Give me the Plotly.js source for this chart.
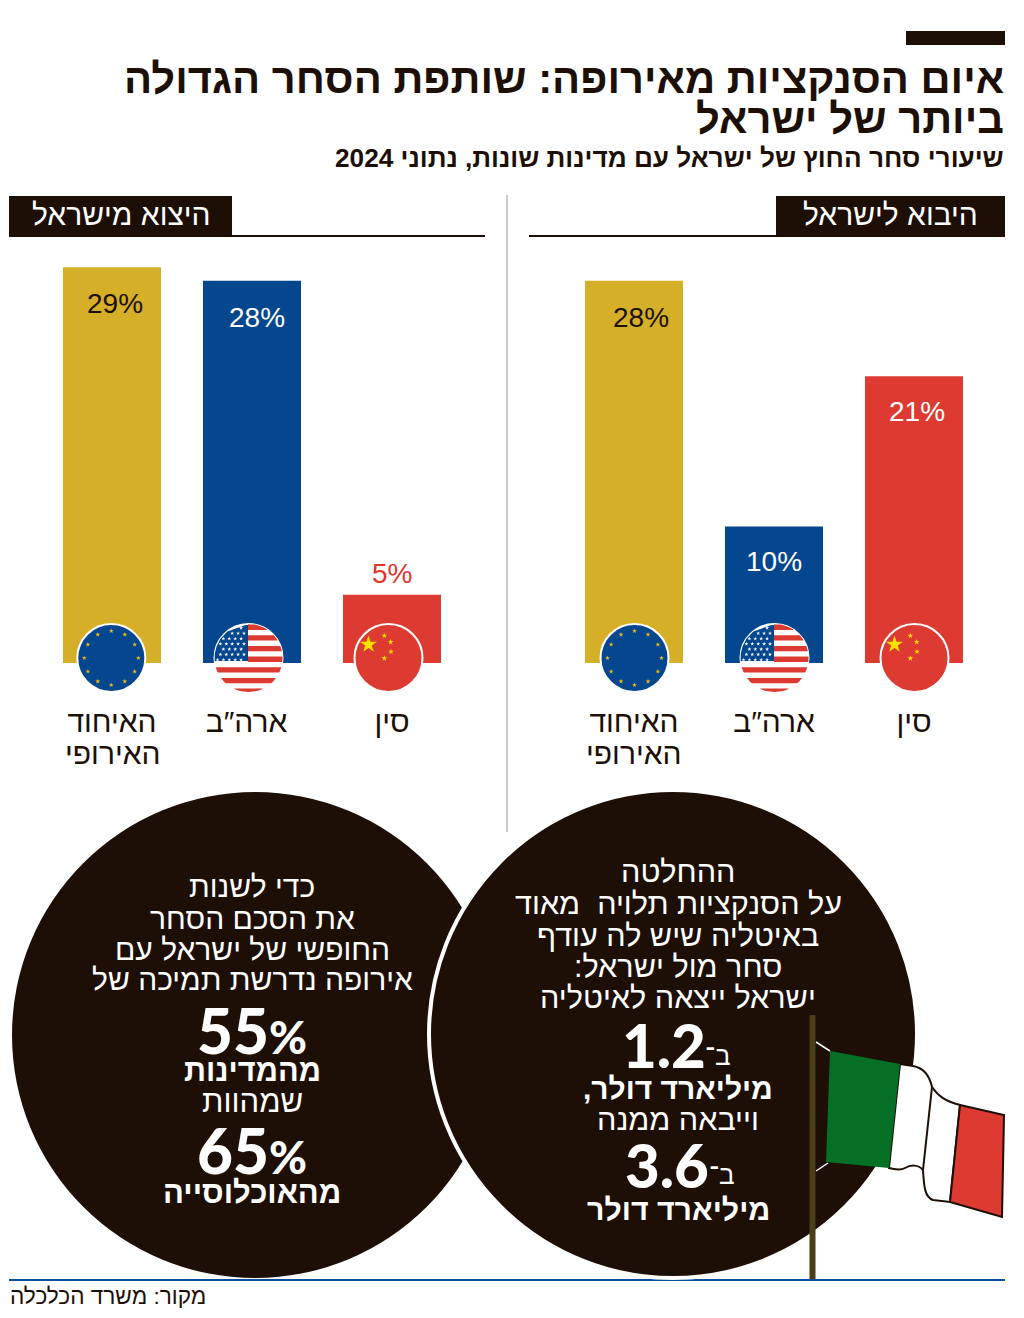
<!DOCTYPE html>
<html lang="he"><head><meta charset="utf-8">
<script src="https://cdn.plot.ly/plotly-3.0.1.min.js"></script>
<style>html,body{margin:0;padding:0;background:#fff}#c{width:1024px;height:1318px}</style></head>
<body><div id="c"></div><script>
const categories=['EU','USA','China'];
const tickLabelsExport=['האיחוד','ארה\u2033ב\u00A0\u200A','סין'];
const tickLabelsImport=['האיחוד','ארה\u2033ב','סין'];
const secondLineLabels=['האירופי','',''];
const importValues=[28,10,21];
const exportValues=[29,28,5];
const barColors=['#d4af27','#04478f','#dd3a32'];
const importLabelColors=['#1d0f05','#ffffff','#ffffff'];
const exportLabelColors=['#1d0f05','#ffffff','#e5332e'];

const W=1024,H=1318,DARK='#1d0f05',RED='#dd3a32',BLUE='#04478f';
const PX=x=>x/W, PY=y=>1-y/H, P=(x,y)=>PX(x)+','+PY(y);
const poly=pts=>'M'+pts.map(p=>P(p[0],p[1])).join('L')+'Z';
const star=(cx,cy,r)=>{const a=[];for(let i=0;i<10;i++){const t=-Math.PI/2+i*Math.PI/5,q=i%2?r*.382:r;a.push([cx+q*Math.cos(t),cy+q*Math.sin(t)]);}return poly(a);};
const rect=(x0,y0,x1,y1,c,extra={})=>Object.assign({type:'rect',xref:'paper',yref:'paper',x0:PX(x0),x1:PX(x1),y0:PY(y0),y1:PY(y1),fillcolor:c,line:{width:0},layer:'above'},extra);
const circle=(cx,cy,r,c,lw,lc)=>({type:'circle',xref:'paper',yref:'paper',x0:PX(cx-r),x1:PX(cx+r),y0:PY(cy+r),y1:PY(cy-r),fillcolor:c,line:{width:lw||0,color:lc||c},layer:'above'});
const path=(d,fill,lw,lc)=>({type:'path',xref:'paper',yref:'paper',path:d,fillcolor:fill||'rgba(0,0,0,0)',line:{width:lw||0,color:lc||'rgba(0,0,0,0)'},layer:'above'});
const cPath=s=>s.replace(/(-?[\d.]+) (-?[\d.]+)/g,(m,a,b)=>P(+a,+b));

const shapes=[];
shapes.push(rect(906,31,1005,45,DARK));
shapes.push(rect(776,196,1005,237,DARK),rect(529,235,1005,237,DARK));
shapes.push(rect(9,196,232,237,DARK),rect(9,235,485,237,DARK));
shapes.push(rect(506,195,508,832,'#c9c9c9'));
shapes.push(rect(9,1279,1005,1281,'#0b4ea2'));
shapes.push(circle(255,1035,243,DARK));
shapes.push(circle(673,1034,244,DARK,4,'#ffffff'));
const CY=658,R=34;
function euFlag(cx){shapes.push(circle(cx,CY,R,BLUE,2,'#fff'));let d='';for(let i=0;i<12;i++){const t=i*Math.PI/6;d+=star(cx+27*Math.cos(t),CY+27*Math.sin(t),2.6);}shapes.push(path(d,'#f2b91c'));}
function clip(cx,x0,x1,y0,y1){const l=[],r=[];for(let i=0;i<=5;i++){const y=y0+(y1-y0)*i/5,w=Math.sqrt(Math.max(0,R*R-(y-CY)*(y-CY)));l.push([Math.max(x0,cx-w),y]);r.unshift([Math.min(x1,cx+w),y]);}return poly(l.concat(r));}
function usFlag(cx){shapes.push(circle(cx,CY,R,'#ffffff',2,'#fff'));let d='';for(let i=0;i<7;i++){const y=CY-R+.6+i*10.67;const x0=y<662?cx-.5:cx-R;d+=clip(cx,x0,cx+R,y,Math.min(y+5.33,CY+R));}shapes.push(path(d,RED));shapes.push(path(clip(cx,cx-R,cx-.5,CY-R,661),BLUE));let s='';for(let r=0;r<7;r++){const y=628+r*5.3;for(let k=0;k<6;k++){const x=cx-31+k*5.9+(r%2?2.9:0);if(x<cx-2&&Math.hypot(x-cx,y-CY)<R-2)s+=star(x,y,2.1);}}shapes.push(path(s,'#ffffff'));}
function cnFlag(cx){shapes.push(circle(cx,CY,R,RED,2,'#fff'));let d=star(cx-20,CY-13.5,9);[[-4.2,-22.3],[2.2,-16],[2.5,-6.3],[-4.2,.3]].forEach(o=>d+=star(cx+o[0],CY+o[1],3));shapes.push(path(d,'#ffe000'));}
euFlag(111.3);usFlag(248.5);cnFlag(388.5);euFlag(634.5);usFlag(774.5);cnFlag(914.5);
shapes.push(path(cPath('M816 1042 L830 1051'),null,1.5,'#fff'),path(cPath('M816 1171 L828 1163'),null,1.5,'#fff'));
shapes.push(rect(809.5,1015,815.5,1279,'#4c3f17'));
shapes.push(path(cPath('M900 1064 L913 1066 C925 1068 930 1078 932 1087 C938 1096 945 1101 960 1105 L950 1202 L933 1200 C925 1197 924 1188 923 1170 C918 1164 910 1165 905 1168 C900 1171 895 1169 889 1168 Z'),'#ffffff',2,'#1d0f05'));
shapes.push(path(cPath('M932 1087 L923 1170'),null,2,'#1d0f05'));
shapes.push(path(cPath('M830 1051 L900 1064 L889 1168 L826 1162 Z'),'#037025'));
shapes.push(path(cPath('M960 1105 L1004 1115 L1002 1217 L950 1202 Z'),RED,2,'#1d0f05'));

const anns=[];
function t(x,y,text,size,opt={}){anns.push({xref:'paper',yref:'paper',x:PX(x),y:PY(y),text,showarrow:false,xanchor:opt.anchor||'center',yanchor:'middle',font:{family:opt.family||'Liberation Sans',size,color:opt.color||DARK,weight:opt.weight||400}});}
t(1006,78,'איום הסנקציות מאירופה: שותפת הסחר הגדולה',41.7,{anchor:'right',weight:700});
t(1006,118,'ביותר של ישראל',41.7,{anchor:'right',weight:700});
t(1006,158,'\u200Fשיעורי סחר החוץ של ישראל עם מדינות שונות, נתוני 2024',26.2,{anchor:'right',weight:700});
t(890.5,214,'היבוא לישראל',30,{color:'#fff'});
t(121,214,'היצוא מישראל',30,{color:'#fff'});
const WL='#ffffff';
['כדי לשנות','את הסכם הסחר','החופשי של ישראל עם','אירופה נדרשת תמיכה של'].forEach((s,i)=>t(252,[886,918,949,980][i],s,30,{color:WL}));
const big=(a,b)=>a+'<span style="font-size:46px">'+b+'</span>';
t(252,1030,big('55','%'),62,{color:WL,weight:900,family:'Lato'});
t(252,1070,'מהמדינות',30.7,{color:WL,weight:700});
t(252,1101,'שמהוות',31,{color:WL});
t(252,1150,big('65','%'),62,{color:WL,weight:900,family:'Lato'});
t(252,1192,'מהאוכלוסייה',31,{color:WL,weight:700});
['ההחלטה','על הסנקציות תלויה  מאוד','באיטליה שיש לה עודף','סחר מול ישראל:\u200F','ישראל ייצאה לאיטליה'].forEach((s,i)=>t(678,[871,903,935,966,997][i],s,30.6,{color:WL}));
t(708,1045,'1.2',60,{color:WL,weight:900,family:'Lato',anchor:'right'});
t(718,1056,'ב־',26,{color:WL});
t(678,1088,'מיליארד דולר,\u200F',30,{color:WL,weight:700});
t(678,1119,'וייבאה ממנה',30.6,{color:WL});
t(711,1165,'3.6',60,{color:WL,weight:900,family:'Lato',anchor:'right'});
t(722,1175,'ב־',26,{color:WL});
t(678,1209,'מיליארד דולר',30.3,{color:WL,weight:700});
t(8,1296,'מקור: משרד הכלכלה',22.6,{anchor:'left'});

const labelShift={imp:[[7,-37],[0,-35],[3,-35]],exp:[[3,-36],[5,-37],[0,21]]};
function valueLabels(vals,xa,ya,cols,sh){vals.forEach((v,i)=>{anns.push({xref:xa,yref:ya,x:categories[i],y:v,text:v+'%',showarrow:false,xanchor:'center',yanchor:'middle',xshift:sh[i][0],yshift:sh[i][1],font:{family:'Liberation Sans',size:28,color:cols[i]}});});}
valueLabels(exportValues,'x','y',exportLabelColors,labelShift.exp);
valueLabels(importValues,'x2','y2',importLabelColors,labelShift.imp);
function secondLines(xa){categories.forEach((c,i)=>{if(secondLineLabels[i])anns.push({xref:xa,yref:'paper',x:c,y:PY(753),text:secondLineLabels[i],showarrow:false,xanchor:'center',yanchor:'middle',xshift:xa==='x'?1:0,font:{family:'Liberation Sans',size:30,color:DARK}});});}
secondLines('x');secondLines('x2');

const yDom=[PY(663),PY(663-13.65*30)];
const xAxis=(d,lab)=>({domain:[PX(d[0]),PX(d[1])],type:'category',categoryorder:'array',categoryarray:categories,range:[-.5,2.5],tickmode:'array',tickvals:categories,ticktext:lab,ticks:'',showline:false,showgrid:false,zeroline:false,ticklabelstandoff:38,tickangle:0,tickfont:{family:'Liberation Sans',size:30,color:DARK},fixedrange:true});
const yAxis=()=>({domain:yDom,range:[0,30],visible:false,showgrid:false,zeroline:false,fixedrange:true});
const bar=(y,xa,ya)=>({type:'bar',x:categories,y,xaxis:xa,yaxis:ya,width:.7,marker:{color:barColors,line:{width:0}},hoverinfo:'skip',showlegend:false,cliponaxis:false});
Plotly.newPlot('c',[bar(exportValues,'x','y'),bar(importValues,'x2','y2')],{
  width:W,height:H,margin:{l:0,r:0,t:0,b:0},paper_bgcolor:'#fff',plot_bgcolor:'rgba(0,0,0,0)',showlegend:false,
  xaxis:Object.assign(xAxis([42,462],tickLabelsExport),{anchor:'y'}),yaxis:Object.assign(yAxis(),{anchor:'x'}),
  xaxis2:Object.assign(xAxis([564,984],tickLabelsImport),{anchor:'y2'}),yaxis2:Object.assign(yAxis(),{anchor:'x2'}),
  shapes,annotations:anns
},{displayModeBar:false,staticPlot:true});
</script></body></html>
